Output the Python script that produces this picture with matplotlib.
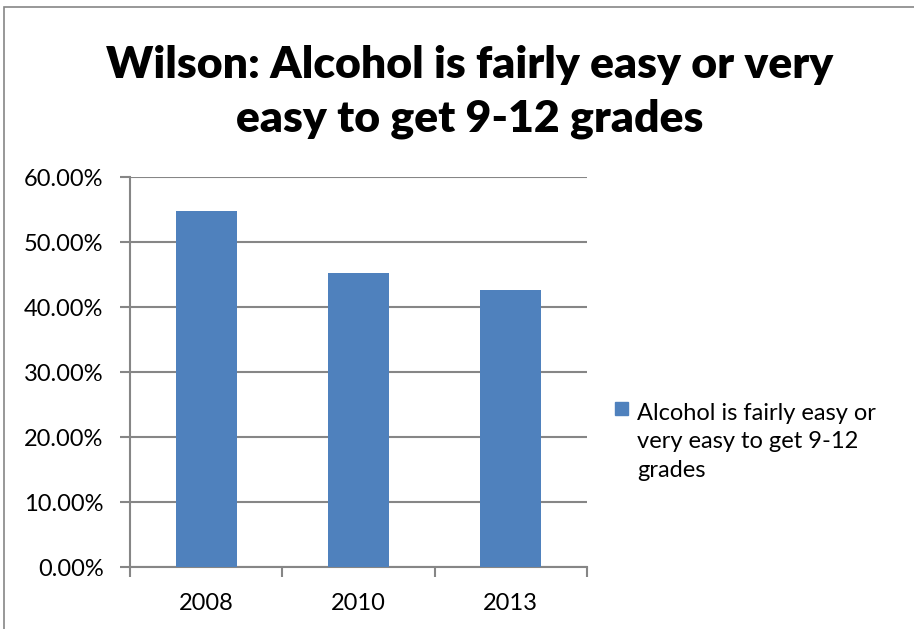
import numpy as np
import matplotlib.pyplot as plt
from matplotlib.patches import Rectangle

plt.rcParams['font.family'] = ['Lato', 'DejaVu Sans']

years = ['2008', '2010', '2013']
values = [0.548, 0.452, 0.426]
series_name = 'Alcohol is fairly easy or\nvery easy to get 9-12\ngrades'
title = 'Wilson: Alcohol is fairly easy or very\neasy to get 9-12 grades'
yticks = [0.0, 0.1, 0.2, 0.3, 0.4, 0.5, 0.6]

bar_color = '#4f81bd'
grid_color = '#868686'

fig = plt.figure(figsize=(9.14, 6.29), dpi=100)
ax = fig.add_axes([130 / 914, 1 - 567 / 629, 457 / 914, (567 - 177.3) / 629])

x = np.arange(len(years))
ax.bar(x, values, width=0.4, color=bar_color, zorder=3)

ax.set_xlim(-0.5, len(years) - 0.5)
ax.set_ylim(0, 0.6)
ax.set_yticks(yticks)
ax.set_yticklabels(['%.2f%%' % (v * 100) for v in yticks], fontsize=17)
ax.set_xticks(x)
ax.set_xticklabels(years, fontsize=17)
ax.tick_params(axis='x', length=0, pad=19)
ax.set_xticks(np.arange(len(years) + 1) - 0.5, minor=True)
ax.tick_params(axis='x', which='minor', length=7, width=1.5, color=grid_color, direction='out')
ax.tick_params(axis='y', length=7, width=1.5, color=grid_color, direction='out', pad=12)

ax.yaxis.grid(True, color=grid_color, linewidth=1.5, zorder=0)
for s in ['top', 'right']:
    ax.spines[s].set_visible(False)
for s in ['left', 'bottom']:
    ax.spines[s].set_color(grid_color)
    ax.spines[s].set_linewidth(1.5)

fig.text(470 / 914, 1 - 92 / 629, title, ha='center', va='center',
         fontsize=32, fontweight='heavy', linespacing=1.42)

# legend drawn by hand so the marker sits beside the first line
fig.patches.append(Rectangle((615 / 914, 1 - 415 / 629), 13 / 914, 13 / 629,
                             transform=fig.transFigure, color=bar_color))
fig.text(637 / 914, 1 - 442 / 629, series_name, ha='left', va='center',
         fontsize=17, linespacing=1.45)

# outer chart border
fig.patches.append(Rectangle((4 / 914, -0.1), 1.2, 1 - 7 / 629 + 0.1,
                             transform=fig.transFigure, fill=False,
                             edgecolor='#868686', linewidth=1.2))

fig.savefig('out.png', dpi=100)
